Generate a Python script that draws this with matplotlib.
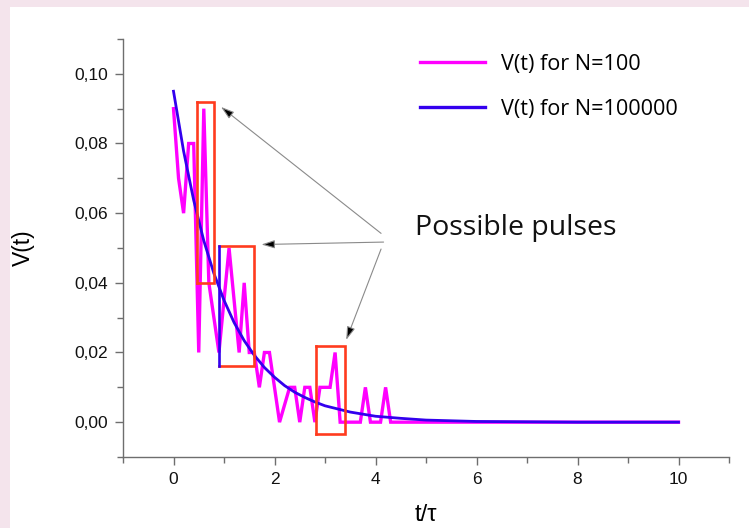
import matplotlib
matplotlib.use("Agg")
import matplotlib.pyplot as plt
from matplotlib.patches import Rectangle
from matplotlib.ticker import FixedLocator

# ---- data ----
t_n100 = [0.0, 0.1, 0.2, 0.3, 0.4, 0.5, 0.6, 0.7, 0.8, 0.9, 1.0, 1.1, 1.2, 1.3, 1.4,
          1.5, 1.6, 1.7, 1.8, 1.9, 2.0, 2.1, 2.2, 2.3, 2.4, 2.5, 2.6, 2.7, 2.8, 2.9,
          3.0, 3.1, 3.2, 3.3, 3.7, 3.8, 3.9, 4.1, 4.2, 4.3, 10.0]
v_n100 = [0.090, 0.070, 0.060, 0.080, 0.080, 0.020, 0.090, 0.040, 0.030, 0.020, 0.035,
          0.050, 0.035, 0.020, 0.040, 0.020, 0.020, 0.010, 0.020, 0.020, 0.010, 0.000,
          0.005, 0.010, 0.010, 0.000, 0.010, 0.010, 0.000, 0.010, 0.010, 0.010, 0.020,
          0.000, 0.000, 0.010, 0.000, 0.000, 0.010, 0.000, 0.000]

t_n100000 = [0.0, 0.2, 0.4, 0.6, 0.8, 1.0, 1.2, 1.4, 1.6, 1.8, 2.0, 2.2, 2.4, 2.6,
             2.8, 3.0, 3.5, 4.0, 4.5, 5.0, 5.5, 6.0, 7.0, 8.0, 9.0, 10.0]
v_n100000 = [0.0950, 0.0778, 0.0637, 0.0521, 0.0427, 0.0350, 0.0286, 0.0234, 0.0192,
             0.0157, 0.0129, 0.0105, 0.0086, 0.0071, 0.0058, 0.0047, 0.0029, 0.0017,
             0.0011, 0.0006, 0.0004, 0.0002, 0.0001, 0.0000, 0.0000, 0.0000]

# pulse boxes: (t_left, t_right, v_bottom, v_top)
box_t0 = [0.46, 0.90, 2.83]
box_t1 = [0.80, 1.59, 3.40]
box_v0 = [0.040, 0.0162, -0.0033]
box_v1 = [0.0919, 0.0506, 0.0218]

# arrows: tail -> head
arrow_tail_t = [4.11, 4.16, 4.11]
arrow_tail_v = [0.0542, 0.0517, 0.0497]
arrow_head_t = [0.94, 1.74, 3.42]
arrow_head_v = [0.0905, 0.0510, 0.0236]

xticks = [0, 2, 4, 6, 8, 10]
xtick_labels = ["0", "2", "4", "6", "8", "10"]
yticks = [0.00, 0.02, 0.04, 0.06, 0.08, 0.10]
ytick_labels = ["0,00", "0,02", "0,04", "0,06", "0,08", "0,10"]

# ---- figure ----
W, H = 749, 528
fig = plt.figure(figsize=(W / 100, H / 100), dpi=100, facecolor="#f4e4ec")
bg = fig.add_axes([10 / W, 0, 1 - 10 / W, 1 - 7 / H], zorder=-10)
bg.set_facecolor("white")
bg.set_axis_off()
bg.add_patch(Rectangle((0, 0), 1, 1, transform=bg.transAxes, facecolor="white",
                       edgecolor="none"))

ax = fig.add_axes([123 / W, 1 - 457 / H, (729 - 123) / W, (457 - 39) / H], zorder=1)
ax.set_facecolor("none")

magenta = "#ff00ff"
blue = "#3300ee"
red = "#ff3b1e"

ax.plot(t_n100, v_n100, color=magenta, lw=2.4, label="V(t) for N=100",
        solid_joinstyle="miter", zorder=3)
ax.plot(t_n100000, v_n100000, color=blue, lw=2.0, label="V(t) for N=100000", zorder=3)

for i, (a, b, c, d) in enumerate(zip(box_t0, box_t1, box_v0, box_v1)):
    ax.plot([a, b, b, a], [d, d, c, c], color=red, lw=1.9, zorder=4,
            solid_joinstyle="miter")
    ax.plot([a, a], [c, d], color=(blue if i == 1 else red), lw=1.9, zorder=4)

for tt, tv, ht, hv in zip(arrow_tail_t, arrow_tail_v, arrow_head_t, arrow_head_v):
    ax.annotate("", xy=(ht, hv), xytext=(tt, tv),
                arrowprops=dict(arrowstyle="-|>,head_length=0.8,head_width=0.25",
                                fc="black", ec="#8a8a8a", lw=0.8,
                                shrinkA=0, shrinkB=0), zorder=5)

ax.text(4.79, 0.0537, "Possible pulses", fontsize=20.5, family="Open Sans",
        ha="left", va="baseline", color="#111111")

ax.set_xlim(-1, 11)
ax.set_ylim(-0.01, 0.11)
for s in ["top", "right"]:
    ax.spines[s].set_visible(False)
for s in ["left", "bottom"]:
    ax.spines[s].set_color("#6e6e6e")
    ax.spines[s].set_linewidth(1.0)

ax.xaxis.set_major_locator(FixedLocator(xticks))
ax.set_xticklabels(xtick_labels)
ax.xaxis.set_minor_locator(FixedLocator([-1, 1, 3, 5, 7, 9, 11]))
ax.yaxis.set_major_locator(FixedLocator(yticks))
ax.set_yticklabels(ytick_labels)
ax.yaxis.set_minor_locator(FixedLocator([-0.01, 0.01, 0.03, 0.05, 0.07, 0.09, 0.11]))
ax.tick_params(which="major", direction="out", length=6, width=1.0, color="#6e6e6e",
               labelsize=12.5, labelcolor="#111111", pad=5)
ax.tick_params(which="minor", direction="out", length=4, width=1.0, color="#6e6e6e")
for lab in ax.get_xticklabels() + ax.get_yticklabels():
    lab.set_family("Liberation Sans")

ax.set_xlabel("t/τ", fontsize=17, family="Liberation Sans", labelpad=12)
ax.set_ylabel("V(t)", fontsize=16.5, family="Liberation Sans", labelpad=28)

leg = ax.legend(loc="upper left", bbox_to_anchor=((420 - 123) / 606, (457 - 54) / 418),
                frameon=False, handlelength=3.0, handletextpad=0.75,
                labelspacing=1.1, borderpad=0, borderaxespad=0,
                prop={"family": "Open Sans", "size": 15.6})
for line in leg.get_lines():
    line.set_linewidth(2.4)

fig.savefig("out.png", dpi=100, facecolor=fig.get_facecolor())
